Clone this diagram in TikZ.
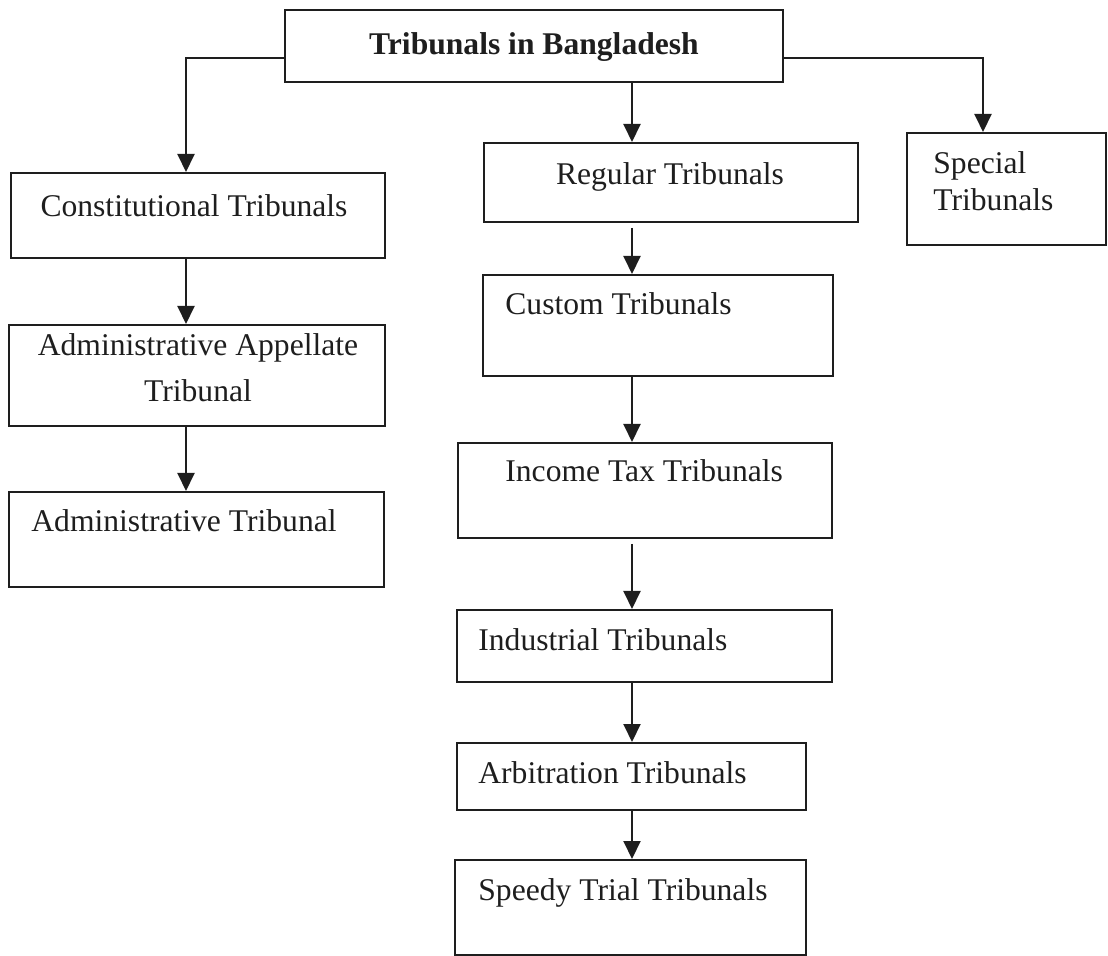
\documentclass[tikz,border=0pt]{standalone}
\usepackage{fontspec}
\setmainfont{Liberation Serif}
\usetikzlibrary{fit,arrows.meta}
\definecolor{ink}{HTML}{1E1E1E}
\begin{document}
\begin{tikzpicture}[x=0.5pt,y=-0.5pt,
  box/.style={draw=ink, line width=1pt, inner sep=0pt, rectangle},
  lbl/.style={inner sep=0pt, text=ink, font=\fontsize{15.8}{19}\selectfont},
  arr/.style={draw=ink, line width=1pt, -{Triangle[length=9pt,width=8.5pt]}},
]
\useasboundingbox (0,0) rectangle (1108,956);

% boxes
\node[box, fit={(285,10)(783,82)}]   (top) {};
\node[box, fit={(11,173)(385,258)}]  (con) {};
\node[box, fit={(9,325)(385,426)}]   (aap) {};
\node[box, fit={(9,492)(384,587)}]   (adm) {};
\node[box, fit={(484,143)(858,222)}] (reg) {};
\node[box, fit={(907,133)(1106,245)}] (spe) {};
\node[box, fit={(483,275)(833,376)}] (cus) {};
\node[box, fit={(458,443)(832,538)}] (inc) {};
\node[box, fit={(457,610)(832,682)}] (ind) {};
\node[box, fit={(457,743)(806,810)}] (arb) {};
\node[box, fit={(455,860)(806,955)}] (spd) {};

% labels
\node[lbl, font=\fontsize{15.8}{19}\selectfont\bfseries, anchor=base] (top-t) at (534,55) {Tribunals in Bangladesh};
\node[lbl, anchor=base] (con-t) at (194,217) {Constitutional Tribunals};
\node[lbl, align=center, font=\fontsize{15.8}{23}\selectfont] (aap-t) at (198,368) {Administrative Appellate\\Tribunal};
\node[lbl, anchor=base] (adm-t) at (184,532) {Administrative Tribunal};
\node[lbl, anchor=base] (reg-t) at (670,185) {Regular Tribunals};
\node[lbl, align=left, font=\fontsize{15.8}{18.5}\selectfont, anchor=west] (spe-t) at (933,181) {Special\\Tribunals};
\node[lbl, anchor=base west] (cus-t) at (505,315) {Custom Tribunals};
\node[lbl, anchor=base west] (inc-t) at (505,482) {Income Tax Tribunals};
\node[lbl, anchor=base west] (ind-t) at (478,650) {Industrial Tribunals};
\node[lbl, anchor=base west] (arb-t) at (478,783) {Arbitration Tribunals};
\node[lbl, anchor=base west] (spd-t) at (478,900) {Speedy Trial Tribunals};

% connector guide points
\coordinate (lx) at (186,58);
\coordinate (rx) at (983,58);
\coordinate (mx) at (632,0);
\coordinate (cx) at (186,0);

% connectors
\draw[arr] (top.west |- lx) -- (lx) -- (con.north -| lx);
\draw[arr] (top.east |- rx) -- (rx) -- (spe.north -| rx);
\draw[arr] (top.south -| mx) -- (reg.north -| mx);
\draw[arr, shorten <=2.5pt] (reg.south -| mx) -- (cus.north -| mx);
\draw[arr] (cus.south -| mx) -- (inc.north -| mx);
\draw[arr, shorten <=2.5pt] (inc.south -| mx) -- (ind.north -| mx);
\draw[arr] (ind.south -| mx) -- (arb.north -| mx);
\draw[arr] (arb.south -| mx) -- (spd.north -| mx);
\draw[arr] (con.south -| cx) -- (aap.north -| cx);
\draw[arr] (aap.south -| cx) -- (adm.north -| cx);
\end{tikzpicture}
\end{document}
